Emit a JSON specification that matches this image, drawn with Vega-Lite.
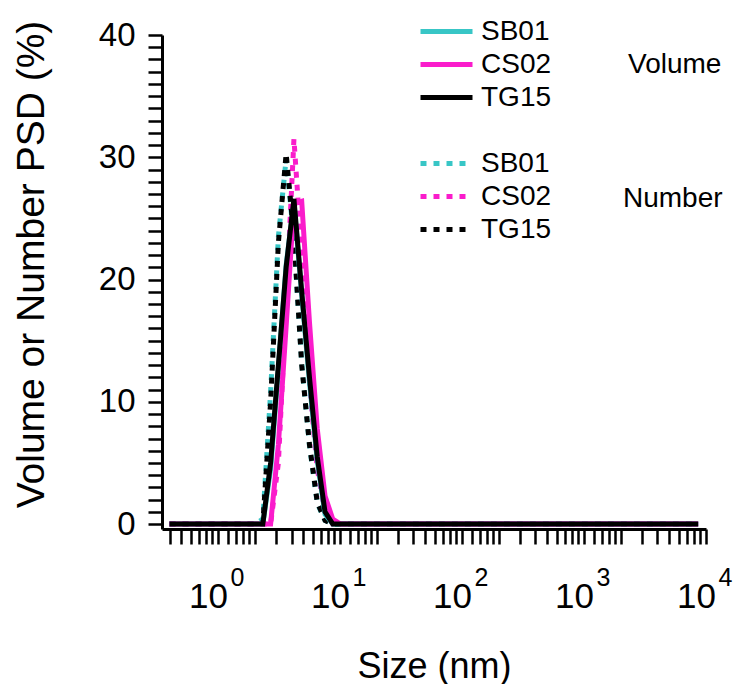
{
  "$schema": "https://vega.github.io/schema/vega-lite/v6.json",
  "width": 544,
  "height": 494,
  "autosize": "none",
  "padding": {"left": 162, "top": 35, "right": 32, "bottom": 155},
  "background": "white",
  "config": {
    "view": {"stroke": null},
    "font": "Liberation Sans",
    "axis": {"grid": false, "domainColor": "black", "domainWidth": 3, "tickColor": "black", "tickWidth": 2.5, "labelColor": "black", "titleColor": "black", "labelFont": "Liberation Sans", "titleFont": "Liberation Sans", "titleFontWeight": "normal", "labelOverlap": false, "labelFlush": false}
  },
  "data": {"values": [
    {"d":0.4,"s":"SB01","vol":0,"num":0},{"d":0.4632,"s":"SB01","vol":0,"num":0},{"d":0.5365,"s":"SB01","vol":0,"num":0},{"d":0.6213,"s":"SB01","vol":0,"num":0},{"d":0.7195,"s":"SB01","vol":0,"num":0},{"d":0.8332,"s":"SB01","vol":0,"num":0},{"d":0.9649,"s":"SB01","vol":0,"num":0},{"d":1.117,"s":"SB01","vol":0,"num":0},{"d":1.294,"s":"SB01","vol":0,"num":0},{"d":1.499,"s":"SB01","vol":0,"num":0},{"d":1.736,"s":"SB01","vol":0,"num":0},{"d":2.01,"s":"SB01","vol":0,"num":0},
    {"d":2.328,"s":"SB01","vol":0,"num":0.4},{"d":2.696,"s":"SB01","vol":4.5,"num":10.8},{"d":3.122,"s":"SB01","vol":12.8,"num":23.5},{"d":3.615,"s":"SB01","vol":21.2,"num":29.9},{"d":4.187,"s":"SB01","vol":26.3,"num":23.2},{"d":4.849,"s":"SB01","vol":18.8,"num":13.2},{"d":5.615,"s":"SB01","vol":11.6,"num":6.4},{"d":6.503,"s":"SB01","vol":5.2,"num":1.7},{"d":7.531,"s":"SB01","vol":0.8,"num":0.3},{"d":8.721,"s":"SB01","vol":0,"num":0},
    {"d":10.1,"s":"SB01","vol":0,"num":0},{"d":11.7,"s":"SB01","vol":0,"num":0},{"d":13.54,"s":"SB01","vol":0,"num":0},{"d":15.69,"s":"SB01","vol":0,"num":0},{"d":18.17,"s":"SB01","vol":0,"num":0},{"d":21.04,"s":"SB01","vol":0,"num":0},{"d":24.36,"s":"SB01","vol":0,"num":0},{"d":28.21,"s":"SB01","vol":0,"num":0},{"d":32.67,"s":"SB01","vol":0,"num":0},{"d":37.84,"s":"SB01","vol":0,"num":0},{"d":43.82,"s":"SB01","vol":0,"num":0},{"d":50.75,"s":"SB01","vol":0,"num":0},{"d":58.77,"s":"SB01","vol":0,"num":0},{"d":68.06,"s":"SB01","vol":0,"num":0},{"d":78.82,"s":"SB01","vol":0,"num":0},{"d":91.28,"s":"SB01","vol":0,"num":0},{"d":105.7,"s":"SB01","vol":0,"num":0},{"d":122.4,"s":"SB01","vol":0,"num":0},{"d":141.8,"s":"SB01","vol":0,"num":0},{"d":164.2,"s":"SB01","vol":0,"num":0},{"d":190.1,"s":"SB01","vol":0,"num":0},{"d":220.2,"s":"SB01","vol":0,"num":0},{"d":255,"s":"SB01","vol":0,"num":0},{"d":295.3,"s":"SB01","vol":0,"num":0},{"d":342,"s":"SB01","vol":0,"num":0},{"d":396.1,"s":"SB01","vol":0,"num":0},{"d":458.7,"s":"SB01","vol":0,"num":0},{"d":531.2,"s":"SB01","vol":0,"num":0},{"d":615.1,"s":"SB01","vol":0,"num":0},{"d":712.4,"s":"SB01","vol":0,"num":0},{"d":825,"s":"SB01","vol":0,"num":0},{"d":955.4,"s":"SB01","vol":0,"num":0},{"d":1106,"s":"SB01","vol":0,"num":0},{"d":1281,"s":"SB01","vol":0,"num":0},{"d":1484,"s":"SB01","vol":0,"num":0},{"d":1718,"s":"SB01","vol":0,"num":0},{"d":1990,"s":"SB01","vol":0,"num":0},{"d":2305,"s":"SB01","vol":0,"num":0},{"d":2669,"s":"SB01","vol":0,"num":0},{"d":3091,"s":"SB01","vol":0,"num":0},{"d":3580,"s":"SB01","vol":0,"num":0},{"d":4145,"s":"SB01","vol":0,"num":0},{"d":4801,"s":"SB01","vol":0,"num":0},{"d":5560,"s":"SB01","vol":0,"num":0},{"d":6439,"s":"SB01","vol":0,"num":0},{"d":7456,"s":"SB01","vol":0,"num":0},{"d":8635,"s":"SB01","vol":0,"num":0},

    {"d":0.4,"s":"CS02","vol":0,"num":0},{"d":0.4632,"s":"CS02","vol":0,"num":0},{"d":0.5365,"s":"CS02","vol":0,"num":0},{"d":0.6213,"s":"CS02","vol":0,"num":0},{"d":0.7195,"s":"CS02","vol":0,"num":0},{"d":0.8332,"s":"CS02","vol":0,"num":0},{"d":0.9649,"s":"CS02","vol":0,"num":0},{"d":1.117,"s":"CS02","vol":0,"num":0},{"d":1.294,"s":"CS02","vol":0,"num":0},{"d":1.499,"s":"CS02","vol":0,"num":0},{"d":1.736,"s":"CS02","vol":0,"num":0},{"d":2.01,"s":"CS02","vol":0,"num":0},
    {"d":2.328,"s":"CS02","vol":0,"num":0},{"d":2.696,"s":"CS02","vol":0,"num":0},{"d":3.122,"s":"CS02","vol":6.5,"num":5},{"d":3.615,"s":"CS02","vol":16.2,"num":18},{"d":4.187,"s":"CS02","vol":26.2,"num":31.5},{"d":4.849,"s":"CS02","vol":26.4,"num":22},{"d":5.615,"s":"CS02","vol":16.5,"num":11.5},{"d":6.503,"s":"CS02","vol":7.8,"num":4.5},{"d":7.531,"s":"CS02","vol":2.3,"num":1},{"d":8.721,"s":"CS02","vol":0.4,"num":0},
    {"d":10.1,"s":"CS02","vol":0,"num":0},{"d":11.7,"s":"CS02","vol":0,"num":0},{"d":13.54,"s":"CS02","vol":0,"num":0},{"d":15.69,"s":"CS02","vol":0,"num":0},{"d":18.17,"s":"CS02","vol":0,"num":0},{"d":21.04,"s":"CS02","vol":0,"num":0},{"d":24.36,"s":"CS02","vol":0,"num":0},{"d":28.21,"s":"CS02","vol":0,"num":0},{"d":32.67,"s":"CS02","vol":0,"num":0},{"d":37.84,"s":"CS02","vol":0,"num":0},{"d":43.82,"s":"CS02","vol":0,"num":0},{"d":50.75,"s":"CS02","vol":0,"num":0},{"d":58.77,"s":"CS02","vol":0,"num":0},{"d":68.06,"s":"CS02","vol":0,"num":0},{"d":78.82,"s":"CS02","vol":0,"num":0},{"d":91.28,"s":"CS02","vol":0,"num":0},{"d":105.7,"s":"CS02","vol":0,"num":0},{"d":122.4,"s":"CS02","vol":0,"num":0},{"d":141.8,"s":"CS02","vol":0,"num":0},{"d":164.2,"s":"CS02","vol":0,"num":0},{"d":190.1,"s":"CS02","vol":0,"num":0},{"d":220.2,"s":"CS02","vol":0,"num":0},{"d":255,"s":"CS02","vol":0,"num":0},{"d":295.3,"s":"CS02","vol":0,"num":0},{"d":342,"s":"CS02","vol":0,"num":0},{"d":396.1,"s":"CS02","vol":0,"num":0},{"d":458.7,"s":"CS02","vol":0,"num":0},{"d":531.2,"s":"CS02","vol":0,"num":0},{"d":615.1,"s":"CS02","vol":0,"num":0},{"d":712.4,"s":"CS02","vol":0,"num":0},{"d":825,"s":"CS02","vol":0,"num":0},{"d":955.4,"s":"CS02","vol":0,"num":0},{"d":1106,"s":"CS02","vol":0,"num":0},{"d":1281,"s":"CS02","vol":0,"num":0},{"d":1484,"s":"CS02","vol":0,"num":0},{"d":1718,"s":"CS02","vol":0,"num":0},{"d":1990,"s":"CS02","vol":0,"num":0},{"d":2305,"s":"CS02","vol":0,"num":0},{"d":2669,"s":"CS02","vol":0,"num":0},{"d":3091,"s":"CS02","vol":0,"num":0},{"d":3580,"s":"CS02","vol":0,"num":0},{"d":4145,"s":"CS02","vol":0,"num":0},{"d":4801,"s":"CS02","vol":0,"num":0},{"d":5560,"s":"CS02","vol":0,"num":0},{"d":6439,"s":"CS02","vol":0,"num":0},{"d":7456,"s":"CS02","vol":0,"num":0},{"d":8635,"s":"CS02","vol":0,"num":0},

    {"d":0.4,"s":"TG15","vol":0,"num":0},{"d":0.4632,"s":"TG15","vol":0,"num":0},{"d":0.5365,"s":"TG15","vol":0,"num":0},{"d":0.6213,"s":"TG15","vol":0,"num":0},{"d":0.7195,"s":"TG15","vol":0,"num":0},{"d":0.8332,"s":"TG15","vol":0,"num":0},{"d":0.9649,"s":"TG15","vol":0,"num":0},{"d":1.117,"s":"TG15","vol":0,"num":0},{"d":1.294,"s":"TG15","vol":0,"num":0},{"d":1.499,"s":"TG15","vol":0,"num":0},{"d":1.736,"s":"TG15","vol":0,"num":0},{"d":2.01,"s":"TG15","vol":0,"num":0},
    {"d":2.328,"s":"TG15","vol":0,"num":0},{"d":2.696,"s":"TG15","vol":5,"num":10},{"d":3.122,"s":"TG15","vol":13,"num":23},{"d":3.615,"s":"TG15","vol":21,"num":30.3},{"d":4.187,"s":"TG15","vol":26.6,"num":23.5},{"d":4.849,"s":"TG15","vol":19,"num":13},{"d":5.615,"s":"TG15","vol":12,"num":6.5},{"d":6.503,"s":"TG15","vol":5.5,"num":1.8},{"d":7.531,"s":"TG15","vol":1,"num":0.3},{"d":8.721,"s":"TG15","vol":0,"num":0},
    {"d":10.1,"s":"TG15","vol":0,"num":0},{"d":11.7,"s":"TG15","vol":0,"num":0},{"d":13.54,"s":"TG15","vol":0,"num":0},{"d":15.69,"s":"TG15","vol":0,"num":0},{"d":18.17,"s":"TG15","vol":0,"num":0},{"d":21.04,"s":"TG15","vol":0,"num":0},{"d":24.36,"s":"TG15","vol":0,"num":0},{"d":28.21,"s":"TG15","vol":0,"num":0},{"d":32.67,"s":"TG15","vol":0,"num":0},{"d":37.84,"s":"TG15","vol":0,"num":0},{"d":43.82,"s":"TG15","vol":0,"num":0},{"d":50.75,"s":"TG15","vol":0,"num":0},{"d":58.77,"s":"TG15","vol":0,"num":0},{"d":68.06,"s":"TG15","vol":0,"num":0},{"d":78.82,"s":"TG15","vol":0,"num":0},{"d":91.28,"s":"TG15","vol":0,"num":0},{"d":105.7,"s":"TG15","vol":0,"num":0},{"d":122.4,"s":"TG15","vol":0,"num":0},{"d":141.8,"s":"TG15","vol":0,"num":0},{"d":164.2,"s":"TG15","vol":0,"num":0},{"d":190.1,"s":"TG15","vol":0,"num":0},{"d":220.2,"s":"TG15","vol":0,"num":0},{"d":255,"s":"TG15","vol":0,"num":0},{"d":295.3,"s":"TG15","vol":0,"num":0},{"d":342,"s":"TG15","vol":0,"num":0},{"d":396.1,"s":"TG15","vol":0,"num":0},{"d":458.7,"s":"TG15","vol":0,"num":0},{"d":531.2,"s":"TG15","vol":0,"num":0},{"d":615.1,"s":"TG15","vol":0,"num":0},{"d":712.4,"s":"TG15","vol":0,"num":0},{"d":825,"s":"TG15","vol":0,"num":0},{"d":955.4,"s":"TG15","vol":0,"num":0},{"d":1106,"s":"TG15","vol":0,"num":0},{"d":1281,"s":"TG15","vol":0,"num":0},{"d":1484,"s":"TG15","vol":0,"num":0},{"d":1718,"s":"TG15","vol":0,"num":0},{"d":1990,"s":"TG15","vol":0,"num":0},{"d":2305,"s":"TG15","vol":0,"num":0},{"d":2669,"s":"TG15","vol":0,"num":0},{"d":3091,"s":"TG15","vol":0,"num":0},{"d":3580,"s":"TG15","vol":0,"num":0},{"d":4145,"s":"TG15","vol":0,"num":0},{"d":4801,"s":"TG15","vol":0,"num":0},{"d":5560,"s":"TG15","vol":0,"num":0},{"d":6439,"s":"TG15","vol":0,"num":0},{"d":7456,"s":"TG15","vol":0,"num":0},{"d":8635,"s":"TG15","vol":0,"num":0}
  ]},
  "layer": [
    {
      "mark": {"type": "line", "strokeWidth": 5, "strokeDash": [6, 7], "strokeCap": "butt"},
      "encoding": {
        "x": {
          "field": "d", "type": "quantitative",
          "scale": {"type": "log", "domain": [0.347, 10000], "nice": false},
          "axis": {
            "orient": "bottom", "values": [1, 10, 100, 1000, 10000],
            "ticks": false, "domain": false, "tickSize": 0,
            "labelExpr": "format(round(log(datum.value)/LN10), 'd')",
            "labelFontSize": 25, "labelPadding": 36, "labelOffset": 19, "title": null
          }
        },
        "y": {"field": "num", "type": "quantitative", "scale": {"domain": [-0.4, 40], "nice": false, "zero": false}, "axis": null},
        "color": {
          "field": "s", "type": "nominal",
          "scale": {"domain": ["SB01", "CS02", "TG15"], "range": ["#38C6C6", "#FA1CCB", "#000000"]},
          "legend": {
            "title": "Number", "orient": "none", "legendX": 256, "legendY": 114.5, "padding": 0,
            "symbolType": "stroke", "symbolSize": 2704, "symbolStrokeWidth": 5, "symbolDash": [6, 7],
            "labelFont": "Liberation Sans", "labelFontSize": 28, "labelColor": "black", "labelOffset": 6, "rowPadding": 5, "clipHeight": 28,
            "titleOrient": "right", "titleFont": "Liberation Sans", "titleFontSize": 28, "titleFontWeight": "normal", "titleColor": "black", "titlePadding": 72,
            "encode": {"title": {"update": {"angle": {"value": 0}, "align": {"value": "left"}, "baseline": {"value": "middle"}, "dy": {"value": 2}}}}
          }
        }
      }
    },
    {
      "mark": {"type": "line", "strokeWidth": 5},
      "encoding": {
        "x": {
          "field": "d", "type": "quantitative",
          "scale": {"type": "log", "domain": [0.347, 10000], "nice": false},
          "axis": {
            "orient": "bottom",
            "values": [0.4,0.5,0.6,0.7,0.8,0.9,1,1.2,1.4,1.6,1.8,2,3,4,5,6,7,8,9,10,12,14,16,18,20,30,40,50,60,70,80,90,100,120,140,160,180,200,300,400,500,600,700,800,900,1000,1200,1400,1600,1800,2000,3000,4000,5000,6000,7000,8000,9000,10000],
            "tickSize": 15,
            "labelExpr": "abs(datum.value/pow(10,floor(log(datum.value)/LN10+1e-9))-1)<1e-6 ? '10' : ''",
            "labelFontSize": 35, "labelPadding": 35, "labelOffset": -10,
            "title": "Size (nm)", "titleFontSize": 36, "titleBaseline": "alphabetic", "titleY": 148,
            "encode": {"ticks": {"update": {"y2": {"signal": "abs(datum.value/pow(10,floor(log(datum.value)/LN10+1e-9))-1)<1e-6 ? 15 : (abs(datum.value/pow(10,floor(log(datum.value)/LN10+1e-9)) - round(datum.value/pow(10,floor(log(datum.value)/LN10+1e-9))))>1e-6 ? 5 : 9)"}}}}
          }
        },
        "y": {
          "field": "vol", "type": "quantitative",
          "scale": {"domain": [-0.4, 40], "nice": false, "zero": false},
          "axis": {
            "orient": "left",
            "values": [0,1,2,3,4,5,6,7,8,9,10,11,12,13,14,15,16,17,18,19,20,21,22,23,24,25,26,27,28,29,30,31,32,33,34,35,36,37,38,39,40],
            "tickSize": 14,
            "labelExpr": "datum.value % 10 === 0 ? datum.label : ''",
            "labelFontSize": 33, "labelPadding": 13,
            "title": "Volume or Number PSD (%)", "titleFontSize": 39, "titleBaseline": "alphabetic", "titleX": -119, "titleY": 229,
            "encode": {"ticks": {"update": {"x2": {"signal": "datum.value % 10 === 0 ? -14 : -8"}}}}
          }
        },
        "color": {
          "field": "s", "type": "nominal",
          "scale": {"domain": ["SB01", "CS02", "TG15"], "range": ["#38C6C6", "#FA1CCB", "#000000"]},
          "legend": {
            "title": "Volume", "orient": "none", "legendX": 256, "legendY": -17.5, "padding": 0,
            "symbolType": "stroke", "symbolSize": 2704, "symbolStrokeWidth": 5,
            "labelFont": "Liberation Sans", "labelFontSize": 28, "labelColor": "black", "labelOffset": 6, "rowPadding": 5, "clipHeight": 28,
            "titleOrient": "right", "titleFont": "Liberation Sans", "titleFontSize": 28, "titleFontWeight": "normal", "titleColor": "black", "titlePadding": 77,
            "encode": {"title": {"update": {"angle": {"value": 0}, "align": {"value": "left"}, "baseline": {"value": "middle"}}}}
          }
        }
      }
    }
  ],
  "resolve": {"scale": {"color": "independent"}, "axis": {"x": "independent", "y": "independent"}}
}
